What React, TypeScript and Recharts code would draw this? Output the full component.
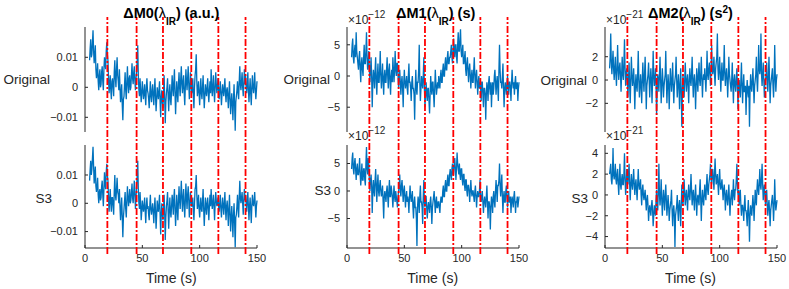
import React from 'react';
import { LineChart, Line, XAxis, YAxis, ReferenceLine } from 'recharts';

// sampling of the recordings (s)
const SAMPLE_START = 4;
const SAMPLE_STEP = 0.5;

// ΔM0, in units of 1e-3 (a.u.), one row per 10 s
const m0Original = [
  9, 13, 16, 10, 11, 15, 19, 12, 8, 11, 14, 6,
  3, 5, 8, 2, -1, 4, 6, 0, 1, 5, 7, 2, -1, 6, 10, 8, 6, 12, 15, 11,
  9, 3, -2, 1, 4, -1, -4, 2, 3, 0, -3, 5, 9, 3, 0, 6, 10, 4, 2, -1,
  6, 0, -5, -2, 1, -6, -11, -4, -3, 1, 5, -1, -4, 2, 7, 1, -2, 3, 4, -1,
  0, 4, 8, 3, 1, 5, 7, 2, -1, 3, 5, 9, 14, 4, -1, -3, 3, -1, -5, -2,
  2, -1, -4, -2, 1, -3, -6, 0, 3, -1, -2, -4, -7, -2, 2, -3, -5, -1, 1, -3,
  -6, -1, 3, -3, -8, -4, 0, -2, -4, -1, 2, -5, -10, -3, -1, -5, -7, -2, 4, -4,
  -12, -5, -2, 0, 3, -3, -8, -2, 1, -4, -6, -1, 4, 0, -3, 2, 6, -2, -9, -3,
  2, -2, -5, 1, 5, 0, -3, 3, 7, 1, -2, 2, 4, -2, -6, 0, 6, 2, -1, 3,
  7, 1, -4, 0, 5, 1, -2, -1, 3, -3, -7, 0, 4, 6, 11, 2, -3, -1, 2, -2,
  -6, -1, 3, -2, -4, 0, 4, -2, -7, -3, 1, -1, -3, 0, 3, -2, -5, -1, 2, -2,
  6, 1, -3, 0, 4, -1, -5, 0, 5, 1, -2, 0, 3, -1, -4, -1, 2, -2, -6, -2,
  1, -1, -3, 0, 3, -2, -5, -1, 0, -3, -7, -2, 2, -4, -9, -5, -2, -6, -11, -4,
  1, -6, -14.5, -5, -3, -1, 2, -2, -4, 2, 7, 1, -1, 2, 5, 0, -3, 1, 6, 1,
  4, 0, -2, 1, 5, -1, -5, -1, 3, -2, -6, 0, 4, 0, -2, 1, 5, -1, -4, -1, 2,
];
const m0S3 = [
  8, 12, 15, 10, 12, 16, 20, 13, 7, 10, 13, 6,
  4, 6, 9, 3, 0, 4, 5, 1, 2, 6, 8, 3, -1, 5, 11, 7, 5, 11, 14, 10,
  8, 2, -3, 1, 5, 0, -3, 2, 2, -1, -4, 4, 10, 3, 1, 5, 9, 4, 3, 0,
  5, -1, -6, -2, 2, -5, -12, -5, -2, 1, 4, -2, -5, 1, 6, 2, -1, 2, 5, 0,
  1, 4, 7, 2, 0, 4, 8, 3, -2, 2, 6, 10, 15, 5, 0, -2, 4, 0, -6, -3,
  1, -1, -3, -1, 2, -3, -7, -1, 2, -2, -1, -4, -6, -1, 3, -2, -4, -2, 0, -3,
  -7, -2, 2, -3, -9, -4, 1, -2, -3, 0, 3, -4, -11, -4, 0, -4, -6, -2, 3, -4,
  -13, -5, -1, 1, 4, -3, -9, -3, 2, -3, -5, -1, 3, 0, -4, 2, 5, -2, -8, -3,
  3, -2, -6, 1, 6, 1, -2, 3, 8, 2, -3, 2, 5, -1, -5, 1, 7, 2, -2, 3,
  6, 1, -5, 0, 4, 1, -1, -1, 2, -3, -6, 0, 5, 6, 10, 3, -2, 0, 3, -2,
  -5, -1, 2, -2, -3, 1, 5, -2, -8, -3, 2, -1, -4, 0, 2, -2, -6, -1, 3, -1,
  5, 1, -2, 0, 3, -1, -6, 0, 4, 1, -1, 0, 2, -1, -3, 0, 3, -2, -5, -1,
  2, -1, -4, 0, 4, -2, -6, -1, 1, -3, -8, -2, 3, -4, -10, -5, -1, -6, -12, -4,
  0, -7, -15.5, -5, -4, -1, 3, -2, -5, 2, 8, 2, 0, 2, 4, 0, -4, 1, 5, 1,
  3, 0, -3, 1, 4, -1, -6, -1, 2, -2, -7, -1, 3, 0, -1, 1, 4, -1, -5, -1, 1,
];

// ΔM1, in units of 1e-12 s
const m1Original = [
  3, 5, 6, 3, 2, 4, 5, 3, 7, 4, 3, 2,
  1, 3, 4, 1, -1, 2, 3, 1, 0, 3, 5, 2, 2, 4, 7, 3, 1, 2, 4, 1,
  -1, 1, 3, 0, -5, -1, 1, 0, -2, 1, 3, -1, -3, 0, 2, -1, -1, 1, 4, 0,
  -2, 0, 2, -1, -3, 0, 1, -1, -1, 1, 3, 0, -2, 1, 2, -1, -3, 0, 1, -1,
  3, 1, -1, 1, 4, 1, 0, 2, 2, 0, -2, 0, 1, -1, -3, -1, 0, -2, -5, -1,
  1, -1, -2, -1, 0, -2, -3, 0, 2, -1, -1, -2, -4, -1, 0, -2, -2, -3, -7, -2,
  1, -2, -3, -1, -1, 1, 5, -1, -4, -2, 0, -1, -2, 0, 3, -2, -5, -3, -1, -3,
  -4, -2, -2, -4, -6, -3, 0, -2, -3, -1, -1, -3, -5, -2, 1, -1, -3, -2, -1, -2,
  0, -1, -2, 0, 1, -1, -1, 1, 2, 0, 0, 2, 3, 1, 1, 3, 4, 2, 2, 3,
  3, 4, 5, 3, 2, 4, 6, 4, 3, 5, 5, 3, 2, 5, 7, 4, 4, 6, 7.5, 4,
  3, 4, 5, 2, 2, 3, 4, 1, 0, 2, 3, 1, -1, 1, 2, 0, -2, 0, 1, -1,
  -1, 1, 3, 0, -2, 0, 1, -1, -3, -1, 0, -2, -1, -2, -4, -1, -1, -3, -5, -2,
  -2, -3, -7, -3, -1, -2, -4, -1, 0, -2, -3, -1, -5, -2, -1, -3, -2, 0, 1, -1,
  -3, -1, 0, -2, -4, 1, 5, 1, -1, -1, -2, 0, 2, -2, -5, -2, -1, -2, -3, -1,
  0, -2, -3, -1, -1, -2, -4, -1, 1, -1, -2, -1, -3, -1, 0, -2, -2, -1, -4, -2, -1,
];
const m1S3 = [
  4, 6, 7, 4, 3, 5, 6, 4, 2, 4, 5, 3,
  3, 4, 6, 3, 1, 3, 5, 2, 2, 4, 4, 2, 1, 5, 8, 4, 3, 6, 5, 2,
  0, 2, 3, 1, -4, 0, 2, 0, -1, 2, 4, 1, -2, 1, 3, 0, -1, 1, 2, 0,
  -1, 0, 1, -2, -5, -1, 0, -1, -2, 0, 1, -1, -3, 0, 2, -1, -1, 1, 0, -1,
  -3, -1, 1, -1, -2, 0, -1, -2, -3, -1, 0, 1, 3, 0, -1, 1, 2, 0, -2, 0,
  1, -1, -3, -1, 0, -2, -1, -2, -4, -1, 1, -1, -2, -1, 0, -3, -5, -2, -1, -3,
  -3, -5, -10, -3, -1, -2, -4, -1, 1, -2, -2, -3, -6, -1, 2, -2, -3, -1, -1, -3,
  -5, -3, -2, -3, -4, -2, -1, -3, -6, -3, -2, -1, 0, -2, -4, -2, -1, -3, -3, -2,
  -2, -3, -4, -2, -1, -2, -2, 0, 1, -1, -1, 1, 2, 0, 0, 2, 3, 1, 1, 3,
  4, 3, 2, 4, 5, 3, 3, 5, 6, 4, 2, 4, 7, 5, 4, 3, 5, 3, 2, 4,
  4, 2, 1, 3, 3, 1, 0, 2, 2, 0, -1, 1, 1, 0, -2, 0, 2, 0, -1, 0,
  0, -1, -2, 0, 1, -1, -3, -1, 0, -1, -1, 0, 2, -1, -2, -1, 0, -2, -4, -2,
  -1, -2, -3, -1, 1, -2, -5, -2, -2, -3, -7, -3, -1, -2, -4, -1, 0, -2, -3, 0,
  2, 0, -2, 1, 1, 2, 5, 1, -1, 1, 3, -1, -4, -1, 0, -2, -2, 0, 1, -1,
  -3, -1, 0, -2, -2, -1, -4, -2, -1, -2, -3, -1, 0, -2, -4, -2, -2, -1, -3, -2, -1,
];

// ΔM2, in units of 1e-21 s^2
const m2Original = [
  1, 2, 4, 1.5, 0.5, 1.5, 2.5, 1, 0, 1, 2, 0.5,
  -0.5, 1, 3, 1, 0, 1, 1.5, 0.5, -1, 0.5, 2, 0.5, 0, 1.5, 3.5, 1, -0.5, 0.5, 1, 0,
  -1.5, 0, 1.5, -0.5, -2, 0, 2, 0.5, -0.5, 0, 1, -0.5, -2.5, -0.5, 0.5, -0.5, -1, 0.5, 2.5, 0,
  -1.5, -0.5, 0.5, -0.5, -2, 0, 1.5, 0, -1, 0.5, 2, 0, -2.5, -0.5, 0, 0.5, 1.5, 0, -1.5, 0,
  1, 0, -2, 0, 2.5, 0.5, -0.5, 0, 1, -0.5, -3, -1, 0.5, 0, -1, 0.5, 2, 0, -2, -0.5,
  1, 0, -1.5, -0.5, 0, 0.5, 2.5, 0, -2, -0.5, 0.5, -0.5, -2.5, -0.5, 1, 0, -1, 0, 1.5, -0.5,
  -2, -0.5, 0, 0.5, 2, 0, -1.5, -0.5, 0.5, -0.5, -2.5, -0.5, 1, -1, -4, -1, 0.5, -0.5, -1.5, 0,
  1.5, 0, -1, 0, 0.5, -0.5, -2, 0, 1, 0, -0.5, 0.5, 2, 0, -1.5, 0, 0.5, -0.5, -2.5, -0.5,
  1, 0, -1, 0.5, 1.5, 0, -0.5, 0.5, 2, 0, -1.5, 0, 0.5, 0, 1, 0, -1, 0.5, 2.5, 0.5,
  0, 1, 1.5, 0.5, -0.5, 1, 3, 1, 0.5, 1, 2, 0.5, -0.5, 1, 1.5, 2, 4, 1, 0, 1,
  2, 0.5, -1, 0.5, 1.5, 0, 0, 1, 3, 0.5, -0.5, 0.5, 1, 0, -1.5, 0, 2, 0.5, 0, -0.5,
  -1, 0, 1.5, -0.5, -2, 0, 0.5, -0.5, -1, 0, 1, -0.5, -2.5, -0.5, 0, -1, -1.5, 0, 1.5, -0.5,
  -2, -0.5, 0.5, -1, -1, -0.5, -3, -1, 0, -1, -1.5, -0.5, -4, -1, 0.5, -0.5, -1, 0, 1, -0.5,
  -2, -0.5, 0, 0.5, 2, 0, -1, 0.5, 3, 1, 0.5, 1, 4, 0.5, -0.5, 0.5, 1.5, 0, -1.5, 0,
  0, 0.5, 1.5, -0.5, -1, 0.5, 2, 0, -2, -0.5, 0, 0.5, 1, -0.5, -1.5, 0, 3, 0.5, -1, 0, 0.5,
];
const m2S3 = [
  2, 2.5, 3, 1.5, 1, 2, 4.5, 2, 1.5, 2, 3, 1.5,
  1, 2, 2.5, 1, 0, 1.5, 3, 1, 0.5, 1.5, 2, 1, 1, 2, 4, 1.5, 0, 1, 2.5, 1.5,
  1, 2, 3, 1, -0.5, 1, 2, 1, 0.5, 1.5, 2.5, 1, 0, 1, 1.5, 0.5, -0.5, 1, 2.5, 1,
  0.5, 1, 1.5, 0, -1, 0.5, 1, 0, -0.5, 0, 0.5, -0.5, -1.5, -0.5, 0, -1, -2.5, -1.5, -1, -1.5,
  -2, -1, -0.5, -1.5, -3, -2, -1, -1.5, -2, -0.5, 0.5, -1, -1.5, 0.5, 3, 0, -1, 0, 1.5, -0.5,
  -2, -0.5, 0.5, -0.5, -1.5, 0, 1, -0.5, -2, -1, 0, -1, -2.5, -1.5, -1, -0.5, 0.5, -1.5, -3, -1.5,
  -1, -2, -5, -2, -1.5, -1, 0, -1.5, -2.5, -1, -0.5, -1.5, -3, -1, 1, -0.5, -1, 0, 1.5, 0,
  -1, 0, 0.5, -0.5, -1.5, 0, 1, 0, -0.5, 0.5, 2, 0.5, -1, 0, 0.5, -0.5, -1.5, 0, 1, -0.5,
  -2, -0.5, 0, -0.5, -1, 0.5, 1.5, -0.5, -2.5, -0.5, 0.5, -0.5, -1, 0, 1, 0, -0.5, 1, 2, 0.5,
  0, 1, 1.5, 2, 3, 1.5, 1, 2, 2.5, 1.5, 0.5, 2, 3.5, 2, 1, 1.5, 2, 1, 0, 1.5,
  2.5, 1, 0.5, 1, 1.5, 0.5, -0.5, 0.5, 1, 0, -1.5, 0, 0.5, -0.5, -1, 0, 1, -0.5, -2, -0.5,
  0, 0.5, -1, 0, 1.5, 0, -0.5, 0.5, 0.5, 1.5, 3, 1, 0, 0.5, -1, 0, 0.5, -1, -2, -1,
  -1, -1.5, -2.5, -1, 0, -1.5, -1.5, -2, -3, -1.5, -0.5, -2, -4.5, -2, -1, -1.5, -2, -1, 0, -1,
  -2.5, -1, 0.5, -0.5, -1, 0.5, 1.5, 0.5, 0, 1, 2.5, 1, 0.5, 1.5, 3, 1, -0.5, 0.5, 1, 0,
  -1, 0, 0.5, -1, -2, -1, -0.5, -1.5, -3, -1.5, -1, -0.5, 0, -1, -2.5, -1, 1.5, -0.5, -1.5, -1, -0.5,
];

const eventTimes = [19.5, 45, 68, 92.7, 116.3, 140];
const timeTicks = [0, 50, 100, 150];
const m0Ticks = [-10, 0, 10];
const m1Ticks = [-5, 0, 5];
const m2TicksTop = [-2, 0, 2];
const m2TicksBottom = [-4, -2, 0, 2, 4];

const FONT = '"Liberation Sans", Arial, Helvetica, sans-serif';
const INK = '#262626';
const PLOT_W = 172;
const TOP_Y = 27;
const TOP_H = 105;
const BOT_Y = 145;
const BOT_H = 103;
const AXIS_W = 50;
const PAD_R = 16;
const X_AXIS_H = 22;

const minus = (s: string) => s.replace('-', '\u2212');
const fmtM0 = (v: number) => (v === 0 ? '0' : minus(String(v / 1000)));
const fmtPlain = (v: number) => minus(String(v));

interface PanelProps {
  values: number[];
  domain: [number, number];
  ticks: number[];
  fmt: (v: number) => string;
  left: number;
  top: number;
  height: number;
  showX?: boolean;
}

const Panel: React.FC<PanelProps> = ({ values, domain, ticks, fmt, left, top, height, showX }) => {
  const data = values.map((v, i) => ({ t: SAMPLE_START + i * SAMPLE_STEP, v }));
  return (
    <div style={{ position: 'absolute', left: left - AXIS_W, top }}>
      <LineChart
        width={AXIS_W + PLOT_W + PAD_R}
        height={height + (showX ? X_AXIS_H : 0)}
        data={data}
        margin={{ top: 0, right: PAD_R, bottom: 0, left: 0 }}
      >
        <XAxis
          type="number"
          dataKey="t"
          domain={[0, 150]}
          ticks={timeTicks}
          interval={0}
          hide={!showX}
          height={X_AXIS_H}
          tickSize={-3}
          tickMargin={9.5}
          axisLine={{ stroke: INK }}
          tickLine={{ stroke: INK }}
          tick={{ fontSize: 11, fill: INK, fontFamily: FONT }}
        />
        <YAxis
          type="number"
          width={AXIS_W}
          domain={domain}
          allowDataOverflow
          ticks={ticks}
          interval={0}
          tickFormatter={fmt}
          tickSize={-3}
          tickMargin={10}
          axisLine={{ stroke: INK }}
          tickLine={{ stroke: INK }}
          tick={{ fontSize: 11, fill: INK, fontFamily: FONT }}
        />
        <Line
          type="linear"
          dataKey="v"
          stroke="#0072BD"
          strokeWidth={1.3}
          dot={false}
          isAnimationActive={false}
        />
      </LineChart>
    </div>
  );
};

// dash-dot markers spanning both rows of a column
const EventLines: React.FC<{ left: number }> = ({ left }) => (
  <div style={{ position: 'absolute', left, top: 17, pointerEvents: 'none' }}>
    <LineChart
      width={PLOT_W}
      height={237}
      data={eventTimes.map((t) => ({ t, y: 0.5 }))}
      margin={{ top: 0, right: 0, bottom: 0, left: 0 }}
    >
      <XAxis type="number" dataKey="t" domain={[0, 150]} hide />
      <YAxis type="number" domain={[0, 1]} hide />
      <Line dataKey="y" stroke="none" dot={false} isAnimationActive={false} />
      {eventTimes.map((t) => (
        <ReferenceLine
          key={t}
          x={t}
          ifOverflow="visible"
          stroke="#FF0000"
          strokeWidth={1.8}
          strokeDasharray="7 2 2 2"
        />
      ))}
    </LineChart>
  </div>
);

const textBase: React.CSSProperties = {
  position: 'absolute',
  fontFamily: FONT,
  whiteSpace: 'nowrap',
  color: INK,
};

const RowLabel: React.FC<{ right: number; baseline: number; text: string }> = ({ right, baseline, text }) => (
  <div style={{ ...textBase, right: 789 - right, top: baseline - 11.4, fontSize: 13.5, lineHeight: '13.5px' }}>{text}</div>
);

const Title: React.FC<{ x: number; children: React.ReactNode }> = ({ x, children }) => (
  <div
    style={{
      ...textBase,
      left: x,
      top: 5.5,
      transform: 'translateX(-50%)',
      fontSize: 14.5,
      lineHeight: '14.5px',
      fontWeight: 700,
      color: '#000',
    }}
  >
    {children}
  </div>
);

const Sub: React.FC<{ children: React.ReactNode }> = ({ children }) => (
  <span style={{ fontSize: 10, position: 'relative', top: 7 }}>{children}</span>
);

const Exponent: React.FC<{ x: number; baseline: number; power: string }> = ({ x, baseline, power }) => (
  <div style={{ ...textBase, left: x, top: baseline - 10.2, fontSize: 12, lineHeight: '12px' }}>
    ×10<span style={{ fontSize: 10, position: 'relative', top: -6 }}>{power}</span>
  </div>
);

const TimeLabel: React.FC<{ x: number }> = ({ x }) => (
  <div style={{ ...textBase, left: x, top: 270.8, transform: 'translateX(-50%)', fontSize: 14, lineHeight: '14px' }}>
    Time (s)
  </div>
);

const COL_LEFT = [85.3, 346.7, 604.5];

export default function App() {
  const [c0, c1, c2] = COL_LEFT;
  return (
    <div style={{ position: 'absolute', left: 0, top: 0, width: 789, height: 289, background: '#fff', overflow: 'hidden' }}>
      {/* ΔM0 */}
      <Panel values={m0Original} domain={[-14.9, 20.1]} ticks={m0Ticks} fmt={fmtM0} left={c0} top={TOP_Y} height={TOP_H} />
      <Panel values={m0S3} domain={[-15.8, 20.6]} ticks={m0Ticks} fmt={fmtM0} left={c0} top={BOT_Y} height={BOT_H} showX />
      {/* ΔM1 */}
      <Panel values={m1Original} domain={[-8.97, 7.85]} ticks={m1Ticks} fmt={fmtPlain} left={c1} top={TOP_Y} height={TOP_H} />
      <Panel values={m1S3} domain={[-10.36, 8.36]} ticks={m1Ticks} fmt={fmtPlain} left={c1} top={BOT_Y} height={BOT_H} showX />
      {/* ΔM2 */}
      <Panel values={m2Original} domain={[-4.46, 4.55]} ticks={m2TicksTop} fmt={fmtPlain} left={c2} top={TOP_Y} height={TOP_H} />
      <Panel values={m2S3} domain={[-5.1, 4.8]} ticks={m2TicksBottom} fmt={fmtPlain} left={c2} top={BOT_Y} height={BOT_H} showX />

      <EventLines left={c0} />
      <EventLines left={c1} />
      <EventLines left={c2} />

      <Title x={c0 + PLOT_W / 2}>
        ΔM0(<span style={{ fontWeight: 400 }}>λ</span><Sub>IR</Sub>) (a.u.)
      </Title>
      <Title x={c1 + PLOT_W / 2 + 3}>
        ΔM1(<span style={{ fontWeight: 400 }}>λ</span><Sub>IR</Sub>) (s)
      </Title>
      <Title x={c2 + PLOT_W / 2}>
        ΔM2(<span style={{ fontWeight: 400 }}>λ</span><Sub>IR</Sub>) (s<span style={{ fontSize: 10, position: 'relative', top: -5 }}>2</span>)
      </Title>

      <Exponent x={348} baseline={24.5} power={'\u221212'} />
      <Exponent x={348} baseline={140.5} power={'\u221212'} />
      <Exponent x={606} baseline={24.5} power={'\u221221'} />
      <Exponent x={606} baseline={140.5} power={'\u221221'} />

      <RowLabel right={50} baseline={84.4} text="Original" />
      <RowLabel right={330} baseline={84} text="Original" />
      <RowLabel right={587} baseline={85.5} text="Original" />
      <RowLabel right={52} baseline={203} text="S3" />
      <RowLabel right={331} baseline={195} text="S3" />
      <RowLabel right={588} baseline={203} text="S3" />

      <TimeLabel x={c0 + PLOT_W / 2} />
      <TimeLabel x={c1 + PLOT_W / 2} />
      <TimeLabel x={c2 + PLOT_W / 2} />
    </div>
  );
}
